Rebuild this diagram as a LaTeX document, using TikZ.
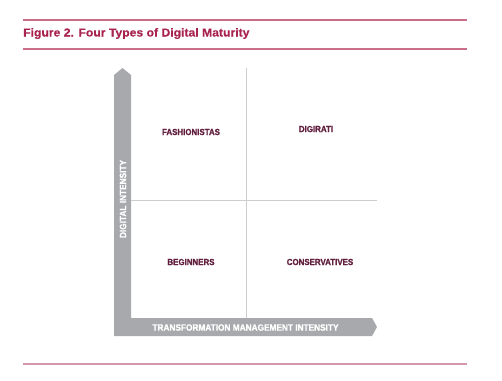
\documentclass[tikz,border=0pt]{standalone}
\usepackage{fontspec}
\setmainfont{Liberation Sans}
\newfontfamily\narrowfont[FakeStretch=0.9,FakeBold=1.2]{Liberation Sans}
\newfontfamily\titlefont[FakeStretch=1.05,FakeBold=0.4]{Liberation Sans}
\definecolor{crimson}{HTML}{A8244F}
\definecolor{rulepink}{HTML}{CC6E88}
\definecolor{lightpink}{HTML}{D597AA}
\definecolor{maroon}{HTML}{62203F}
\definecolor{bandgray}{HTML}{A7A9AC}
\definecolor{gridgray}{HTML}{CDCDCD}

\begin{document}
\begin{tikzpicture}[x=1pt,y=-1pt]
  \tikzset{quad/.style = {text=maroon,font=\narrowfont\bfseries\fontsize{8.8}{10}\selectfont,inner sep=0pt}}
  \tikzset{axislabel/.style = {text=white,font=\narrowfont\bfseries\fontsize{9.2}{10}\selectfont,inner sep=0pt}}
  \tikzset{figrule/.style = {draw=rulepink,line width=1.3pt}}

\useasboundingbox (0,0) rectangle (502,380);

% title and rules
\draw[figrule] (23,20) -- (467,20);
\node[anchor=base west,inner sep=0pt,text=crimson,font=\titlefont\bfseries\fontsize{11.6}{13}\selectfont] (title) at (23,36.5) {Figure 2. Four Types of Digital Maturity};
\draw[figrule] (23,49) -- (467,49);
\draw[figrule,draw=lightpink,line width=2pt] (23,364) -- (467,364);

% axes band
\fill[bandgray] (122.5,68) -- (131,75) -- (131,318) -- (372,318) -- (377,327)
  -- (372,336) -- (114,336) -- (114,75) -- cycle;

% grid
\coordinate (gtop) at (246,68);
\coordinate (gbot) at (246,318);
\coordinate (gleft) at (131,200);
\coordinate (gright) at (377,200);
\draw[gridgray,line width=1pt] (gtop) -- (gbot);
\draw[gridgray,line width=1pt] (gleft) -- (gright);

% labels
\node[axislabel,rotate=90] (yaxis) at (123,199) {DIGITAL INTENSITY};
\node[axislabel] (xaxis) at (245.5,327.5) {TRANSFORMATION MANAGEMENT INTENSITY};

\node[quad] (fashion) at (191,132) {FASHIONISTAS};
\node[quad] (digi) at (316,129) {DIGIRATI};
\node[quad] (begin) at (191,262) {BEGINNERS};
\node[quad] (cons) at (320,262) {CONSERVATIVES};

\end{tikzpicture}
\end{document}
